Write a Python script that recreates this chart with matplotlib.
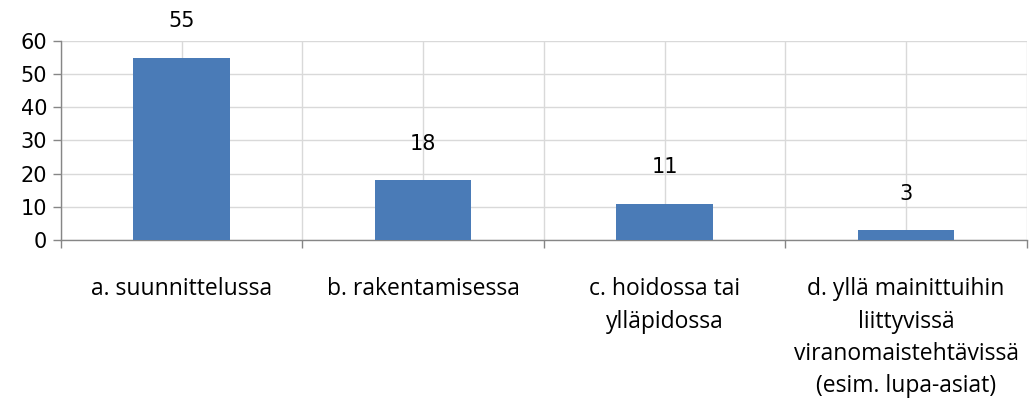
import matplotlib
matplotlib.use('Agg')
import matplotlib.pyplot as plt
import numpy as np

# data
categories = ['a. suunnittelussa',
              'b. rakentamisessa',
              'c. hoidossa tai\nylläpidossa',
              'd. yllä mainittuihin\nliittyvissä\nviranomaistehtävissä\n(esim. lupa-asiat)']
values = [55, 18, 11, 3]
y_ticks = [0, 10, 20, 30, 40, 50, 60]

BAR_COLOR = '#4a7bb7'
GRID = '#d9d9d9'
AXIS = '#868686'
FONT = 'Open Sans'
NUM_FONT = 'DejaVu Sans'

fig = plt.figure(figsize=(10.35, 4.15), dpi=100)
ax = fig.add_axes([0.059, 0.4217, 0.933, 0.4795])

x = np.arange(len(values))
ax.bar(x, values, width=0.4, color=BAR_COLOR, edgecolor='none', zorder=3)

# value labels above bars
for xi, v in zip(x, values):
    ax.annotate(str(v), (xi, v), xytext=(0, 26), textcoords='offset points',
                ha='center', va='center', fontsize=15, family=NUM_FONT, color='black')

ax.set_xlim(-0.5, len(values) - 0.5)
ax.set_ylim(0, 60)
ax.set_yticks(y_ticks)
ax.set_yticklabels([str(t) for t in y_ticks], fontsize=15, family=NUM_FONT)

ax.set_xticks(x)
ax.set_xticklabels(categories, fontsize=16.5, family=FONT, linespacing=1.45, va='top')
ax.set_xticks(np.arange(len(values) + 1) - 0.5, minor=True)

ax.grid(True, which='major', axis='both', color=GRID, linewidth=1, zorder=0)
ax.grid(True, which='minor', axis='x', color=GRID, linewidth=1, zorder=0)
ax.set_axisbelow(True)

for s in ['top', 'right']:
    ax.spines[s].set_visible(False)
for s in ['left', 'bottom']:
    ax.spines[s].set_color(AXIS)
    ax.spines[s].set_linewidth(1)

ax.tick_params(axis='y', colors=AXIS, labelcolor='black', length=6, width=1, pad=4)
ax.tick_params(axis='x', which='major', length=0, pad=27, labelcolor='black')
ax.tick_params(axis='x', which='minor', length=6, width=1, colors=AXIS)

fig.savefig('out.png', dpi=100, facecolor='white')
